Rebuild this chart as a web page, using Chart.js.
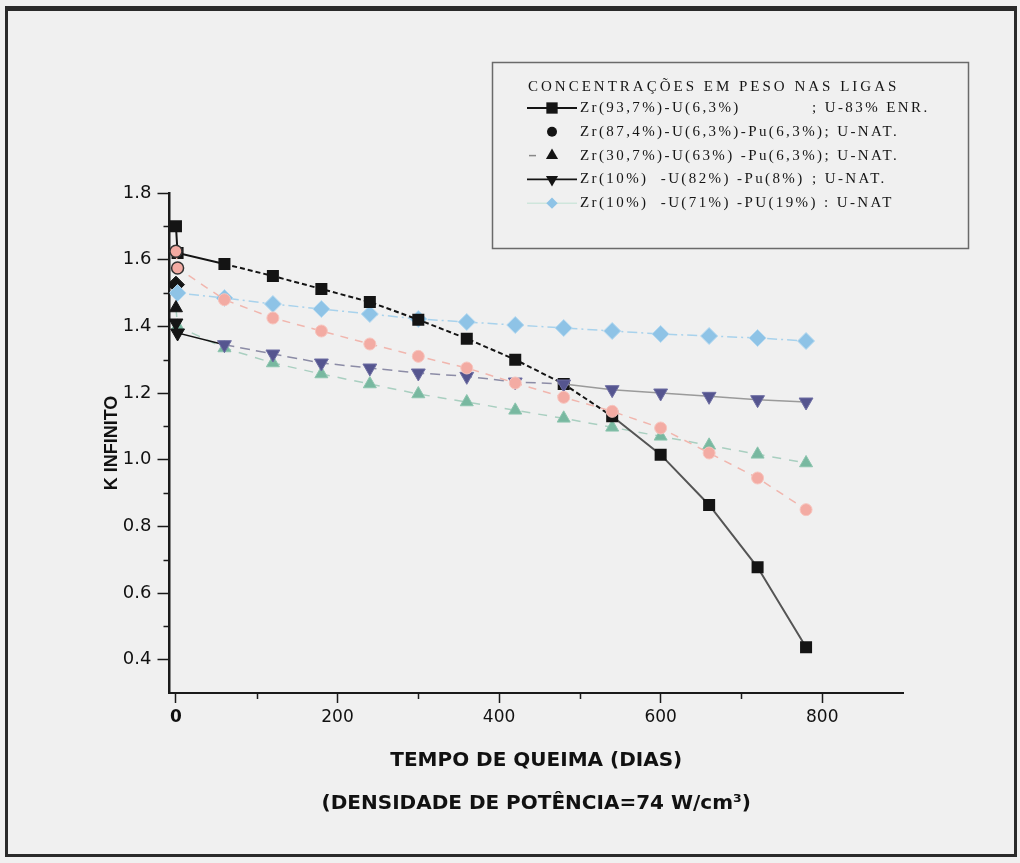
<!DOCTYPE html>
<html>
<head>
<meta charset="utf-8">
<script src="https://cdn.jsdelivr.net/npm/chart.js@4.4.1/dist/chart.umd.min.js"></script>
<style>
  html, body { margin: 0; padding: 0; background: #f0f0f0; }
  #wrap { position: absolute; left: 0; top: 0; width: 1020px; height: 863px; }
  #c { position: absolute; left: 0; top: 0; }
  #frame { position: absolute; left: 5px; top: 6px; width: 1006px; height: 843px;
           border: 3px solid #2a2a2a; border-top-width: 5px; pointer-events: none; }
</style>
</head>
<body>
<div id="wrap">
  <canvas id="c" width="1020" height="863"></canvas>
  <div id="frame"></div>
</div>
<script>
// ---------------- data ----------------
const days = [0, 2, 60, 120, 180, 240, 300, 360, 420, 480, 540, 600, 660, 720, 780];
const kZr937U63      = [1.70, 1.62, 1.587, 1.551, 1.512, 1.473, 1.42, 1.363, 1.30, 1.227, 1.13, 1.015, 0.864, 0.677, 0.437];
const kZr874U63Pu63  = [1.625, 1.575, 1.48, 1.425, 1.386, 1.347, 1.31, 1.275, 1.23, 1.187, 1.145, 1.095, 1.02, 0.945, 0.85];
const kZr307U63Pu63  = [1.455, 1.40, 1.335, 1.29, 1.257, 1.227, 1.197, 1.173, 1.148, 1.124, 1.097, 1.07, 1.043, 1.016, 0.99];
const kZr10U82Pu8    = [1.41, 1.38, 1.345, 1.317, 1.29, 1.275, 1.26, 1.25, 1.233, 1.227, 1.21, 1.20, 1.19, 1.18, 1.173];
const kZr10U71Pu19   = [1.525, 1.50, 1.485, 1.467, 1.452, 1.437, 1.422, 1.413, 1.404, 1.395, 1.386, 1.377, 1.371, 1.365, 1.356];

const seriesNames = [
  'Zr(93,7%)-U(6,3%)',
  'Zr(87,4%)-U(6,3%)-Pu(6,3%)',
  'Zr(30,7%)-U(63%) -Pu(6,3%)',
  'Zr(10%)  -U(82%) -Pu(8%)',
  'Zr(10%)  -U(71%) -PU(19%) '
];
const seriesTags = ['; U-83% ENR.', '; U-NAT.', '; U-NAT.', '; U-NAT.', ': U-NAT'];
const legendTitle = 'CONCENTRAÇÕES EM PESO NAS LIGAS';

const xTicks = [0, 200, 400, 600, 800];
const xMinorTicks = [100, 300, 500, 700];
const yTicks = [0.4, 0.6, 0.8, 1.0, 1.2, 1.4, 1.6, 1.8];
const yMinorTicks = [0.5, 0.7, 0.9, 1.1, 1.3, 1.5, 1.7];

const yTitle = 'K INFINITO';
const xTitle = ['TEMPO DE QUEIMA (DIAS)', '(DENSIDADE DE POTÊNCIA=74 W/cm³)'];

// ---------------- helpers ----------------
const pts = vals => days.map((d, i) => ({ x: d, y: vals[i] }));
const SANS = "'Liberation Sans', Arial, sans-serif";
const WIDE = "'DejaVu Sans', 'Liberation Sans', sans-serif";
const SERIF = "'Liberation Serif', 'Times New Roman', serif";
const BLACK = '#141414';

const datasets = [
  {
    label: seriesNames[0], data: pts(kZr937U63),
    pointStyle: 'rect', pointRadius: 8.5, pointRotation: 0,
    pointBackgroundColor: BLACK, pointBorderColor: BLACK, pointBorderWidth: 0,
    borderColor: BLACK, borderWidth: 2,
    segment: {
      borderDash: c => (c.p0DataIndex >= 2 && c.p0DataIndex < 10) ? [5, 3] : undefined,
      borderColor: c => c.p0DataIndex >= 10 ? '#555555' : BLACK
    },
    legendLine: { color: BLACK, dash: [], width: 2 }, legendMarker: BLACK, order: 3
  },
  {
    label: seriesNames[1], data: pts(kZr874U63Pu63),
    pointStyle: 'circle', pointRadius: 6,
    pointBackgroundColor: c => c.dataIndex === 0 ? '#f2aaa2' : '#f3aba3',
    pointBorderColor: c => c.dataIndex <= 1 ? '#333' : '#f6c4bd', pointBorderWidth: c => c.dataIndex <= 1 ? 1.5 : 1,
    borderColor: '#f1b6ae', borderWidth: 1.5, borderDash: [8, 7],
    legendLine: null, legendMarker: BLACK, order: 1
  },
  {
    label: seriesNames[2], data: pts(kZr307U63Pu63),
    pointStyle: 'triangle', pointRadius: 7.5, pointRotation: 0,
    pointBackgroundColor: c => c.dataIndex === 0 ? BLACK : '#78b8a0',
    pointBorderColor: c => c.dataIndex === 0 ? BLACK : '#8cc4ae', pointBorderWidth: 1,
    borderColor: '#a9cfc0', borderWidth: 1.5, borderDash: [9, 8],
    legendLine: { color: '#888', dash: [], width: 1.5, short: true }, legendMarker: BLACK, order: 4
  },
  {
    label: seriesNames[3], data: pts(kZr10U82Pu8),
    pointStyle: 'triangle', pointRadius: 8, pointRotation: 180,
    pointBackgroundColor: c => c.dataIndex <= 1 ? BLACK : '#55558f',
    pointBorderColor: c => c.dataIndex <= 1 ? BLACK : '#6f6fa3', pointBorderWidth: 1,
    borderColor: '#8c8ca6', borderWidth: 1.5,
    segment: {
      borderDash: c => (c.p0DataIndex >= 2 && c.p0DataIndex < 9) ? [10, 6] : undefined,
      borderColor: c => c.p0DataIndex <= 1 ? BLACK : (c.p0DataIndex >= 9 ? '#9a9a9a' : '#8c8ca6')
    },
    legendLine: { color: BLACK, dash: [], width: 1.8 }, legendMarker: BLACK, order: 2
  },
  {
    label: seriesNames[4], data: pts(kZr10U71Pu19),
    pointStyle: 'rectRot', pointRadius: 8.5,
    pointBackgroundColor: c => c.dataIndex === 0 ? BLACK : '#8ec3e6',
    pointBorderColor: c => c.dataIndex === 0 ? BLACK : '#b3d8f0', pointBorderWidth: 1,
    borderColor: '#a8d2ec', borderWidth: 1.5, borderDash: [10, 4, 2, 4],
    legendLine: { color: '#cfe6dc', dash: [], width: 1.5 }, legendMarker: '#8ec3e6', order: 5
  }
];

// minor ticks drawn with the library's scales
const minorTicksPlugin = {
  id: 'minorTicks',
  afterDraw(chart) {
    const { ctx, scales: { x, y } } = chart;
    ctx.save();
    ctx.strokeStyle = '#1a1a1a';
    ctx.lineWidth = 1.5;
    ctx.beginPath();
    xMinorTicks.forEach(v => {
      const px = Math.round(x.getPixelForValue(v)) + 0.5;
      ctx.moveTo(px, y.bottom); ctx.lineTo(px, y.bottom + 6);
    });
    yMinorTicks.forEach(v => {
      const py = Math.round(y.getPixelForValue(v)) + 0.5;
      ctx.moveTo(x.left, py); ctx.lineTo(x.left - 6, py);
    });
    ctx.stroke();
    ctx.restore();
  }
};

function drawMarker(ctx, style, rot, r, x, y, fill) {
  ctx.save();
  ctx.fillStyle = fill;
  ctx.beginPath();
  if (style === 'rect') {
    const s = r * Math.SQRT1_2;
    ctx.rect(x - s, y - s, 2 * s, 2 * s);
  } else if (style === 'rectRot') {
    const s = r * Math.SQRT1_2;
    ctx.moveTo(x - s, y); ctx.lineTo(x, y + s); ctx.lineTo(x + s, y); ctx.lineTo(x, y - s);
  } else if (style === 'triangle') {
    let a = rot * Math.PI / 180;
    for (let k = 0; k < 3; k++) {
      const px = x + Math.sin(a) * r, py = y - Math.cos(a) * r;
      if (k === 0) ctx.moveTo(px, py); else ctx.lineTo(px, py);
      a += 2 * Math.PI / 3;
    }
  } else {
    ctx.arc(x, y, r, 0, Math.PI * 2);
  }
  ctx.closePath();
  ctx.fill();
  ctx.restore();
}

const boxLegendPlugin = {
  id: 'boxLegend',
  afterDraw(chart) {
    const ctx = chart.ctx;
    const L = 492, T = 62, R = 968, B = 248;
    ctx.save();
    ctx.fillStyle = '#f0f0f0';
    ctx.fillRect(L, T, R - L, B - T);
    ctx.strokeStyle = '#6a6a6a';
    ctx.lineWidth = 1.5;
    ctx.strokeRect(L + 0.5, T + 0.5, R - L, B - T);
    ctx.fillStyle = '#151515';
    ctx.textBaseline = 'middle';
    ctx.textAlign = 'left';
    ctx.font = '15px ' + SERIF;
    if ('letterSpacing' in ctx) ctx.letterSpacing = '3px';
    ctx.fillText(legendTitle, 528, 87);
    if ('letterSpacing' in ctx) ctx.letterSpacing = '2.4px';
    chart.data.datasets.forEach((ds, i) => {
      const y = 108 + i * 23.8;
      const ln = ds.legendLine;
      if (ln) {
        ctx.save();
        ctx.strokeStyle = ln.color; ctx.lineWidth = ln.width; ctx.setLineDash(ln.dash);
        ctx.beginPath();
        if (ln.short) { ctx.moveTo(529, y); ctx.lineTo(536, y); }
        else { ctx.moveTo(527, y); ctx.lineTo(577, y); }
        ctx.stroke();
        ctx.restore();
      }
      drawMarker(ctx, ds.pointStyle, ds.pointRotation || 0,
                 ds.pointStyle === 'circle' ? 5 : (ds.pointStyle === 'triangle' ? 7 : 8), 552, y, ds.legendMarker);
      ctx.fillStyle = '#151515';
      ctx.fillText(seriesNames[i], 580, y);
      const w = ctx.measureText(seriesNames[i]).width;
      ctx.fillText(seriesTags[i], Math.max(580 + w, 812), y);
    });
    ctx.restore();
  }
};

new Chart(document.getElementById('c'), {
  type: 'line',
  data: { datasets },
  options: {
    responsive: false,
    animation: false,
    devicePixelRatio: 1,
    layout: { padding: { left: 101, top: 193, right: 117, bottom: 0 } },
    plugins: { legend: { display: false }, tooltip: { enabled: false }, title: { display: false } },
    elements: { line: { tension: 0, fill: false } },
    scales: {
      x: {
        type: 'linear', min: -8, max: 900,
        afterBuildTicks: s => { s.ticks = xTicks.map(v => ({ value: v })); },
        afterFit: s => { s.height = 170; },
        ticks: {
          autoSkip: false, maxRotation: 0, padding: 4, color: '#111',
          font: c => ({ family: WIDE, size: 17, weight: (c.tick && c.tick.value === 0) ? 'bold' : 'normal' }),
          callback: v => String(v)
        },
        grid: { drawOnChartArea: false, drawTicks: true, tickLength: 10, tickColor: '#1a1a1a', tickWidth: 1.5 },
        border: { display: true, color: '#1a1a1a', width: 2 },
        title: {
          display: true, text: xTitle, color: '#111',
          font: { family: WIDE, size: 20, weight: 'bold', lineHeight: 2.15 },
          padding: { top: 0, bottom: 38 }
        }
      },
      y: {
        type: 'linear', min: 0.3, max: 1.8,
        afterBuildTicks: s => { s.ticks = yTicks.map(v => ({ value: v })); },
        afterFit: s => { s.width = 68.5; },
        ticks: {
          padding: 6, color: '#111',
          font: { family: WIDE, size: 18 },
          callback: v => Number(v).toFixed(1)
        },
        grid: { drawOnChartArea: false, drawTicks: true, tickLength: 12, tickColor: '#1a1a1a', tickWidth: 1.5 },
        border: { display: true, color: '#1a1a1a', width: 2.5 },
        title: {
          display: true, text: yTitle, color: '#111',
          font: { family: SANS, size: 18, weight: 'bold', lineHeight: 1.2 },
          padding: { top: 0, bottom: 0 }
        }
      }
    }
  },
  plugins: [minorTicksPlugin, boxLegendPlugin]
});
</script>
</body>
</html>
